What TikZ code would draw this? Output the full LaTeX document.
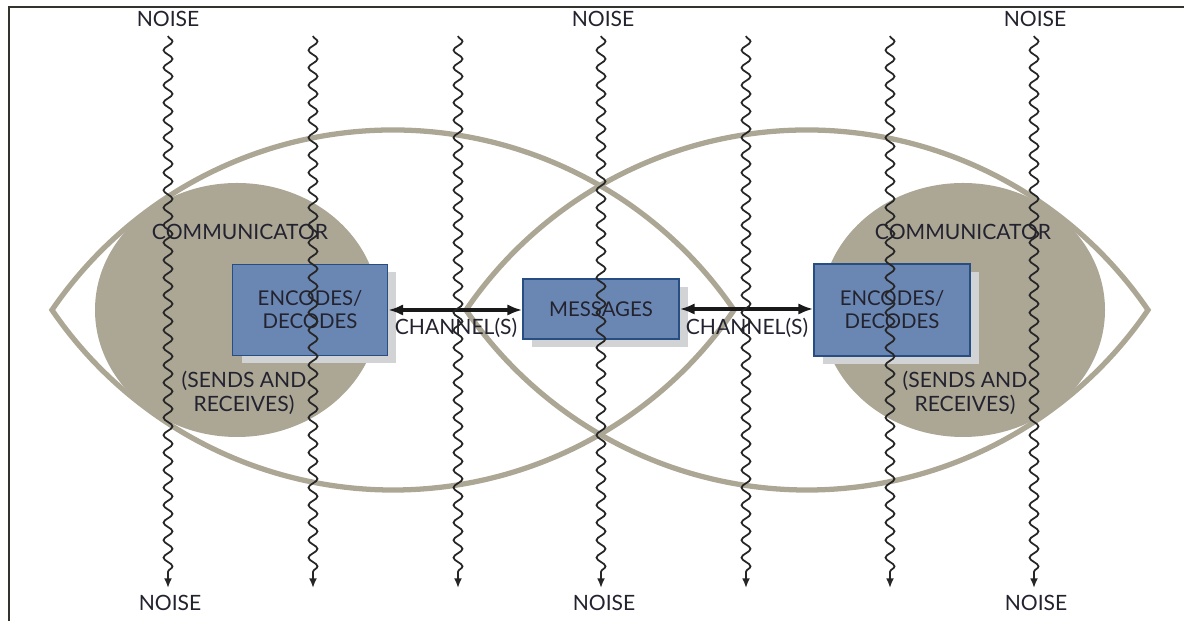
\documentclass[tikz,border=0pt]{standalone}
\usepackage{fontspec}
\setmainfont{Lato}
\usetikzlibrary{decorations.pathmorphing,arrows.meta,shadows}
\definecolor{tanc}{RGB}{172,166,149}
\definecolor{boxblue}{RGB}{106,134,178}
\definecolor{boxedge}{RGB}{38,78,130}
\definecolor{shadowgray}{RGB}{210,211,213}
\definecolor{txt}{RGB}{35,35,48}
\definecolor{framec}{RGB}{50,52,45}
\begin{document}
\begin{tikzpicture}[x=0.02cm,y=0.02cm,
  lbl/.style={text=txt,font=\fontsize{12}{13.6}\selectfont,inner sep=0pt,align=center},
  lens/.style={draw=tanc,line width=3pt},
  blob/.style={fill=tanc},
  bluebox/.style={draw=boxedge,line width=0.9pt,fill=boxblue,text=txt,
     font=\fontsize{11.6}{13}\selectfont,align=center,inner sep=0pt,
     drop shadow={shadow xshift=0.18cm,shadow yshift=-0.16cm,fill=shadowgray,opacity=1}},
  chan/.style={line width=2pt,black!90,{Latex[length=8.5pt,width=6.5pt]}-{Latex[length=8.5pt,width=6.5pt]}},
  wave/.style={line width=1pt,black!85,
     decorate,decoration={snake,segment length=0.35cm,amplitude=0.09cm,post length=2.2mm},
     -{Latex[length=5.5pt,width=4.5pt]}},
  frame/.style={line width=1.2pt,framec}
]
\useasboundingbox (0,0) rectangle (1184,621);
% frame
\draw[frame] (9,0) -- (9,614) -- (1184,614);
% communicator blobs
\fill[blob] (237,311) ellipse[x radius=142,y radius=127];
\fill[blob] (963,311) ellipse[x radius=142,y radius=127];
% lenses
\draw[lens] (52,311) arc[start angle=145.66,end angle=34.34,radius=413]
   arc[start angle=325.66,end angle=214.34,radius=413] -- cycle;
\draw[lens] (466,311) arc[start angle=145.66,end angle=34.34,radius=413]
   arc[start angle=325.66,end angle=214.34,radius=413] -- cycle;
% texts on blobs
\node[lbl] (comL) at (240,389) {COMMUNICATOR};
\node[lbl] (comR) at (963,389) {COMMUNICATOR};
\node[lbl] (srL) at (244,228) {(SENDS AND\\RECEIVES)};
\node[lbl] (srR) at (965,228) {(SENDS AND\\RECEIVES)};
% boxes
\node[bluebox,minimum width=3.1cm,minimum height=1.82cm] (encL) at (310,311) {ENCODES/\\DECODES};
\node[bluebox,minimum width=3.12cm,minimum height=1.2cm] (msg) at (601,312) {MESSAGES};
\node[bluebox,minimum width=3.12cm,minimum height=1.84cm] (encR) at (892,311) {ENCODES/\\DECODES};
% channels
\draw[chan] (encL.east |- 0,311) -- (msg.west |- 0,311);
\draw[chan] (msg.east |- 0,312) -- (encR.west |- 0,312);
\node[lbl] (chL) at (456,293) {CHANNEL(S)};
\node[lbl] (chR) at (747,293) {CHANNEL(S)};
% noise
\foreach \i/\x in {1/168,2/313,3/458,4/601,5/746,6/890,7/1034}{
  \coordinate (wt\i) at (\x,585);
  \coordinate (wb\i) at (\x,33);
  \draw[wave] (wt\i) -- (wb\i);
}
\node[lbl] (nt1) at (168,602) {NOISE};
\node[lbl] (nt2) at (603,602) {NOISE};
\node[lbl] (nt3) at (1035,602) {NOISE};
\node[lbl] (nb1) at (170,18) {NOISE};
\node[lbl] (nb2) at (604,18) {NOISE};
\node[lbl] (nb3) at (1036,18) {NOISE};
\end{tikzpicture}
\end{document}
